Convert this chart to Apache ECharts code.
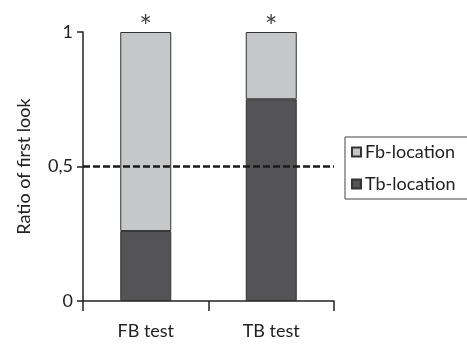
<!DOCTYPE html>
<html>
<head>
<meta charset="utf-8">
<script src="https://cdn.jsdelivr.net/npm/echarts@6/dist/echarts.min.js"></script>
<style>
  html, body { margin: 0; padding: 0; background: #fff; }
  #chart { width: 467px; height: 346px; }
</style>
</head>
<body>
<div id="chart"></div>
<script>
var categories = ['FB test', 'TB test'];
var tbLocation = [0.26, 0.75];
var fbLocation = [0.74, 0.25];
var significance = ['*', '*'];
var chanceLevel = 0.5;

var fontFamily = 'Lato, "Open Sans", sans-serif';
var ink = '#222';

var chart = echarts.init(document.getElementById('chart'));
chart.setOption({
    animation: false,
    textStyle: { fontFamily: fontFamily },
    grid: { left: 83, right: 133, top: 32, bottom: 45 },
    legend: {
        orient: 'vertical',
        left: 345,
        top: 137,
        data: ['Fb-location', 'Tb-location'],
        icon: 'rect',
        itemWidth: 9,
        itemHeight: 9,
        itemGap: 14,
        padding: [6, 40, 6, 6],
        borderColor: '#444',
        borderWidth: 1,
        textStyle: { fontSize: 18, color: ink, fontFamily: fontFamily, padding: [0, 0, 0, -1] }
    },
    xAxis: {
        type: 'category',
        data: categories,
        axisLine: { lineStyle: { color: ink, width: 1.5 } },
        axisTick: { show: true, length: 10, inside: false, lineStyle: { color: ink, width: 1.5 } },
        axisLabel: { fontSize: 18, color: ink, margin: 21 }
    },
    yAxis: {
        type: 'value',
        min: 0,
        max: 1,
        interval: 0.5,
        name: 'Ratio of first look',
        nameLocation: 'middle',
        nameGap: 50,
        nameTextStyle: { fontSize: 18, color: ink },
        splitLine: { show: false },
        axisLine: { show: true, lineStyle: { color: ink, width: 1.5 } },
        axisTick: { show: true, length: 6, lineStyle: { color: ink, width: 1.5 } },
        axisLabel: {
            fontSize: 18,
            color: ink,
            margin: 10,
            formatter: function (v) { return String(v).replace('.', ','); }
        }
    },
    series: [
        {
            name: 'Tb-location',
            type: 'bar',
            stack: 'look',
            barWidth: 51,
            data: tbLocation,
            itemStyle: { color: '#545456', borderColor: '#333', borderWidth: 1 },
            markLine: {
                silent: true,
                symbol: 'none',
                z: 10,
                label: { show: false },
                lineStyle: { color: '#1a1a1a', width: 2.5, type: [7, 3] },
                data: [{ yAxis: chanceLevel }]
            },
            z: 2
        },
        {
            name: 'Fb-location',
            type: 'bar',
            stack: 'look',
            barWidth: 51,
            data: fbLocation,
            itemStyle: { color: '#c6c7c9', borderColor: '#333', borderWidth: 1 },
            label: {
                show: true,
                position: 'top',
                distance: -10,
                fontSize: 30,
                color: '#444',
                formatter: function (p) { return significance[p.dataIndex]; }
            },
            z: 2
        }
    ]
});
</script>
</body>
</html>
